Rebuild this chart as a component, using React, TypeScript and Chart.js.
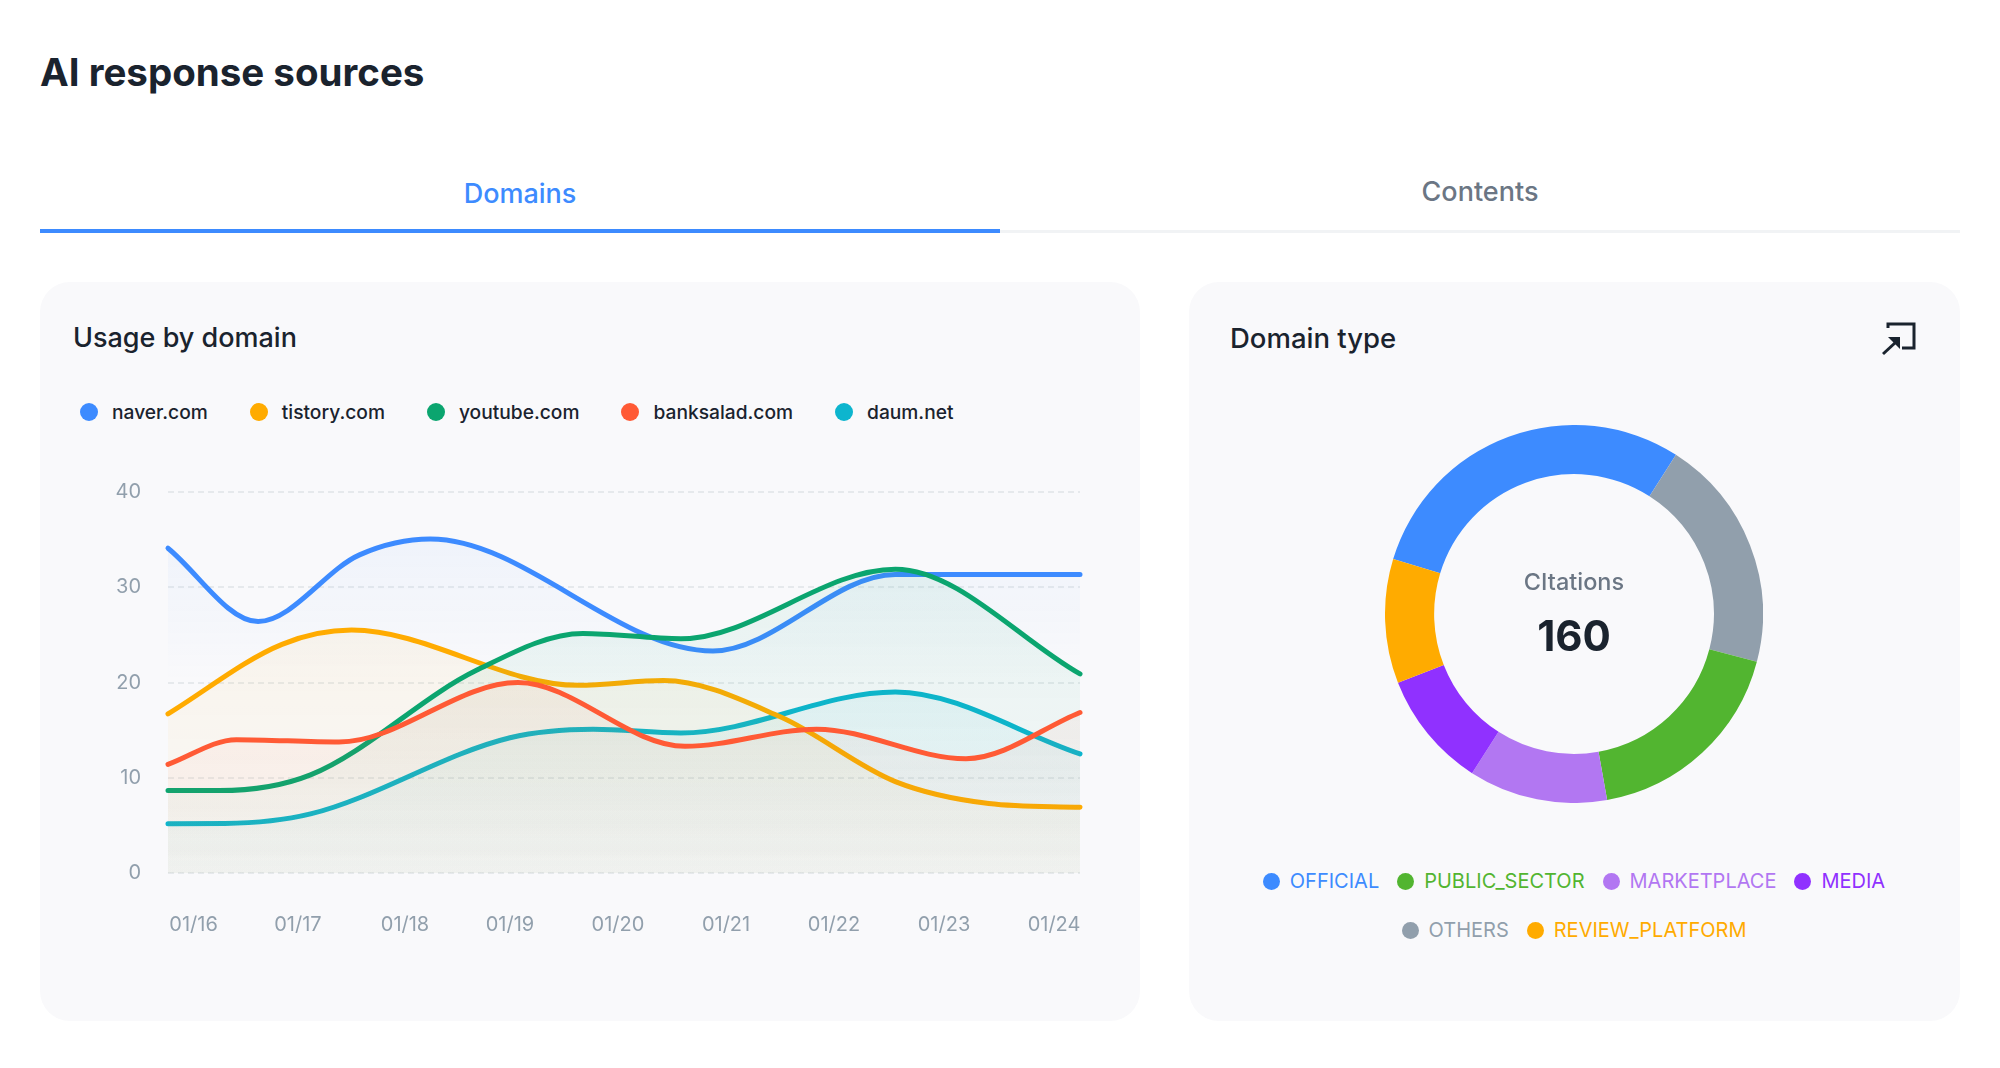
import React, { useEffect, useRef } from "react";
import { Chart, registerables } from "chart.js";

Chart.register(...registerables);

const dateLabels = ["01/16", "01/17", "01/18", "01/19", "01/20", "01/21", "01/22", "01/23", "01/24"];
const dateTickDays = [0.224, 1.14, 2.079, 3.0, 3.947, 4.895, 5.842, 6.807, 7.772];

const naverDays = [0, 0.79, 1.68, 2.3, 4.78, 6.38, 8];
const naverValues = [34.1, 26.4, 33.4, 35.06, 23.3, 31.35, 31.35];

const tistoryDays = [0, 1.0, 1.61, 3.6, 4.345, 5.37, 6.38, 7.2, 8];
const tistoryValues = [16.7, 24.0, 25.5, 19.7, 20.2, 16.4, 9.6, 7.3, 6.9];

const youtubeDays = [0, 0.45, 1.25, 2.71, 3.64, 4.5, 6.38, 8];
const youtubeValues = [8.65, 8.65, 10.3, 21.3, 25.15, 24.6, 31.9, 20.9];

const banksaladDays = [0, 0.6, 1.5, 3.07, 4.535, 5.69, 7, 8];
const banksaladValues = [11.4, 14.0, 13.75, 20.0, 13.3, 15.1, 12.0, 16.85];

const daumDays = [0, 0.5, 1.25, 3, 3.73, 4.5, 6.38, 8];
const daumValues = [5.18, 5.2, 6.2, 14.2, 15.1, 14.7, 19.0, 12.5];

const domainNames = ["naver.com", "tistory.com", "youtube.com", "banksalad.com", "daum.net"];
const domainColors = ["#3D8BFF", "#FFAB00", "#0BA56F", "#FF5A35", "#0DB5CE"];
const domainRgb = ["61,139,255", "255,171,0", "11,165,111", "255,90,53", "13,181,206"];
const domainDays = [naverDays, tistoryDays, youtubeDays, banksaladDays, daumDays];
const domainValues = [naverValues, tistoryValues, youtubeValues, banksaladValues, daumValues];
const domainOrder = [5, 3, 2, 1, 4];
const fillTopAlpha = [0.05, 0.06, 0.07, 0.06, 0.07];
const fillBottomAlpha = [0, 0.02, 0.02, 0.02, 0.02];
const fillFadeValue = [20, 0, 0, 0, 0];

const typeNames = ["OFFICIAL", "OTHERS", "PUBLIC_SECTOR", "MARKETPLACE", "MEDIA", "REVIEW_PLATFORM"];
const typeValues = [47, 32, 29, 19, 16, 17];
const typeColors = ["#3D8BFF", "#919FAC", "#52B530", "#B277F2", "#9031FF", "#FFAB00"];
const typeLegendRows = [[0, 2, 3, 4], [1, 5]];

const FONT = "Inter, 'Noto Sans', sans-serif";

const abs = (left: number, top: number, extra: React.CSSProperties = {}): React.CSSProperties => ({
  position: "absolute",
  left,
  top,
  whiteSpace: "nowrap",
  ...extra,
});

export default function App() {
  const lineRef = useRef<HTMLCanvasElement>(null);
  const donutRef = useRef<HTMLCanvasElement>(null);

  useEffect(() => {
    const line = new Chart(lineRef.current!, {
      type: "line",
      data: {
        datasets: domainNames.map((name, i) => ({
          label: name,
          data: domainDays[i].map((d, k) => ({ x: d, y: domainValues[i][k] })),
          borderColor: domainColors[i],
          borderWidth: 5,
          borderCapStyle: "round",
          pointRadius: 0,
          cubicInterpolationMode: "monotone",
          order: domainOrder[i],
          clip: 5,
          fill: "origin",
          backgroundColor: (ctx: any) => {
            const { chartArea: area, scales } = ctx.chart;
            if (!area) return "transparent";
            const top = scales.y.getPixelForValue(Math.max(...domainValues[i]));
            const bottom = scales.y.getPixelForValue(fillFadeValue[i]);
            const g = ctx.chart.ctx.createLinearGradient(0, top, 0, bottom);
            g.addColorStop(0, `rgba(${domainRgb[i]},${fillTopAlpha[i]})`);
            g.addColorStop(1, `rgba(${domainRgb[i]},${fillBottomAlpha[i]})`);
            return g;
          },
        })),
      },
      options: {
        responsive: false,
        animation: false,
        layout: { padding: { top: 22, right: 10, left: 0, bottom: 0 } },
        plugins: { legend: { display: false }, tooltip: { enabled: false } },
        events: [],
        scales: {
          x: {
            type: "linear",
            min: 0,
            max: 8,
            afterBuildTicks: (s: any) => {
              s.ticks = dateTickDays.map((value) => ({ value }));
            },
            afterFit: (s: any) => {
              s.height = 87;
              s.paddingLeft = 0;
              s.paddingRight = 0;
            },
            grid: { display: false },
            border: { display: false },
            ticks: {
              autoSkip: false,
              maxRotation: 0,
              padding: 32,
              color: "#919FAC",
              font: { family: FONT, size: 20 },
              callback: (_v: any, i: number) => dateLabels[i],
            },
          },
          y: {
            min: 0,
            max: 40,
            afterFit: (s: any) => {
              s.width = 68;
              s.paddingTop = 0;
              s.paddingBottom = 0;
            },
            grid: { color: "#E6E9EC", lineWidth: 2, tickLength: 0 },
            border: { display: false, dash: [6, 4] },
            ticks: {
              stepSize: 10,
              padding: 27,
              color: "#919FAC",
              font: { family: FONT, size: 20 },
            },
          },
        },
      },
    } as any);

    const donut = new Chart(donutRef.current!, {
      type: "doughnut",
      data: {
        labels: typeNames,
        datasets: [{ data: typeValues, backgroundColor: typeColors, borderWidth: 0 }],
      },
      options: {
        responsive: false,
        animation: false,
        rotation: -73.1,
        cutout: "74%",
        events: [],
        plugins: { legend: { display: false }, tooltip: { enabled: false } },
      },
    } as any);

    return () => {
      line.destroy();
      donut.destroy();
    };
  }, []);

  return (
    <div style={{ position: "absolute", left: 0, top: 0, width: 2000, height: 1068, overflow: "hidden", background: "#fff", fontFamily: FONT, color: "#1A232E" }}>
      <div style={abs(40, 47, { fontSize: 38.5, lineHeight: "50px", fontWeight: 700 })}>AI response sources</div>

      <div style={abs(40, 176, { width: 960, textAlign: "center", fontSize: 27, lineHeight: "36px", fontWeight: 500, color: "#3D8BFF" })}>Domains</div>
      <div style={abs(1000, 174, { width: 960, textAlign: "center", fontSize: 27, lineHeight: "36px", fontWeight: 500, color: "#6B7684" })}>Contents</div>
      <div style={abs(40, 230, { width: 1920, height: 3, background: "#F1F3F5" })} />
      <div style={abs(40, 229, { width: 960, height: 4, background: "#3D8BFF" })} />

      <div style={abs(40, 282, { width: 1100, height: 739, borderRadius: 30, background: "#F9F9FB" })} />
      <div style={abs(1189, 282, { width: 771, height: 739, borderRadius: 30, background: "#F9F9FB" })} />

      <div style={abs(73, 320, { fontSize: 27, lineHeight: "36px", fontWeight: 500 })}>Usage by domain</div>
      <div style={abs(1230, 320, { fontSize: 27.5, lineHeight: "36px", fontWeight: 500 })}>Domain type</div>

      <div style={abs(80, 400, { display: "flex", gap: 42, alignItems: "center", height: 24 })}>
        {domainNames.map((n, i) => (
          <div key={n} style={{ display: "flex", alignItems: "center", gap: 14 }}>
            <span style={{ width: 18, height: 18, borderRadius: "50%", background: domainColors[i] }} />
            <span style={{ fontSize: 19.2, fontWeight: 500, color: "#1A232E" }}>{n}</span>
          </div>
        ))}
      </div>

      <canvas ref={lineRef} width={990} height={490} style={abs(100, 470, { display: "block", width: 990, height: 490 })} />

      <svg style={abs(1880, 318)} width={40} height={40} viewBox="0 0 40 40" fill="none">
        <path d="M8 10 V6 H34 V30 H22" stroke="#1A232E" strokeWidth={3} />
        <path d="M3 36 L16 24" stroke="#1A232E" strokeWidth={3} />
        <path d="M8 19 H20 V31 Z" fill="#1A232E" />
      </svg>

      <canvas ref={donutRef} width={378} height={378} style={abs(1385, 425, { display: "block", width: 378, height: 378 })} />

      <div style={abs(1385, 566, { width: 378, textAlign: "center", fontSize: 23.5, lineHeight: "32px", fontWeight: 500, color: "#6B7684" })}>CItations</div>
      <div style={abs(1385, 610, { width: 378, textAlign: "center", fontSize: 42, lineHeight: "52px", fontWeight: 700 })}>160</div>

      <div style={abs(1224, 866, { width: 700, display: "flex", flexDirection: "column", alignItems: "center", gap: 19 })}>
        {typeLegendRows.map((row, r) => (
          <div key={r} style={{ display: "flex", justifyContent: "center", gap: 18 }}>
            {row.map((k) => (
              <div key={k} style={{ display: "flex", alignItems: "center", gap: 10, height: 30 }}>
                <span style={{ width: 17, height: 17, borderRadius: "50%", background: typeColors[k] }} />
                <span style={{ fontSize: 20, color: typeColors[k] }}>{typeNames[k]}</span>
              </div>
            ))}
          </div>
        ))}
      </div>
    </div>
  );
}
